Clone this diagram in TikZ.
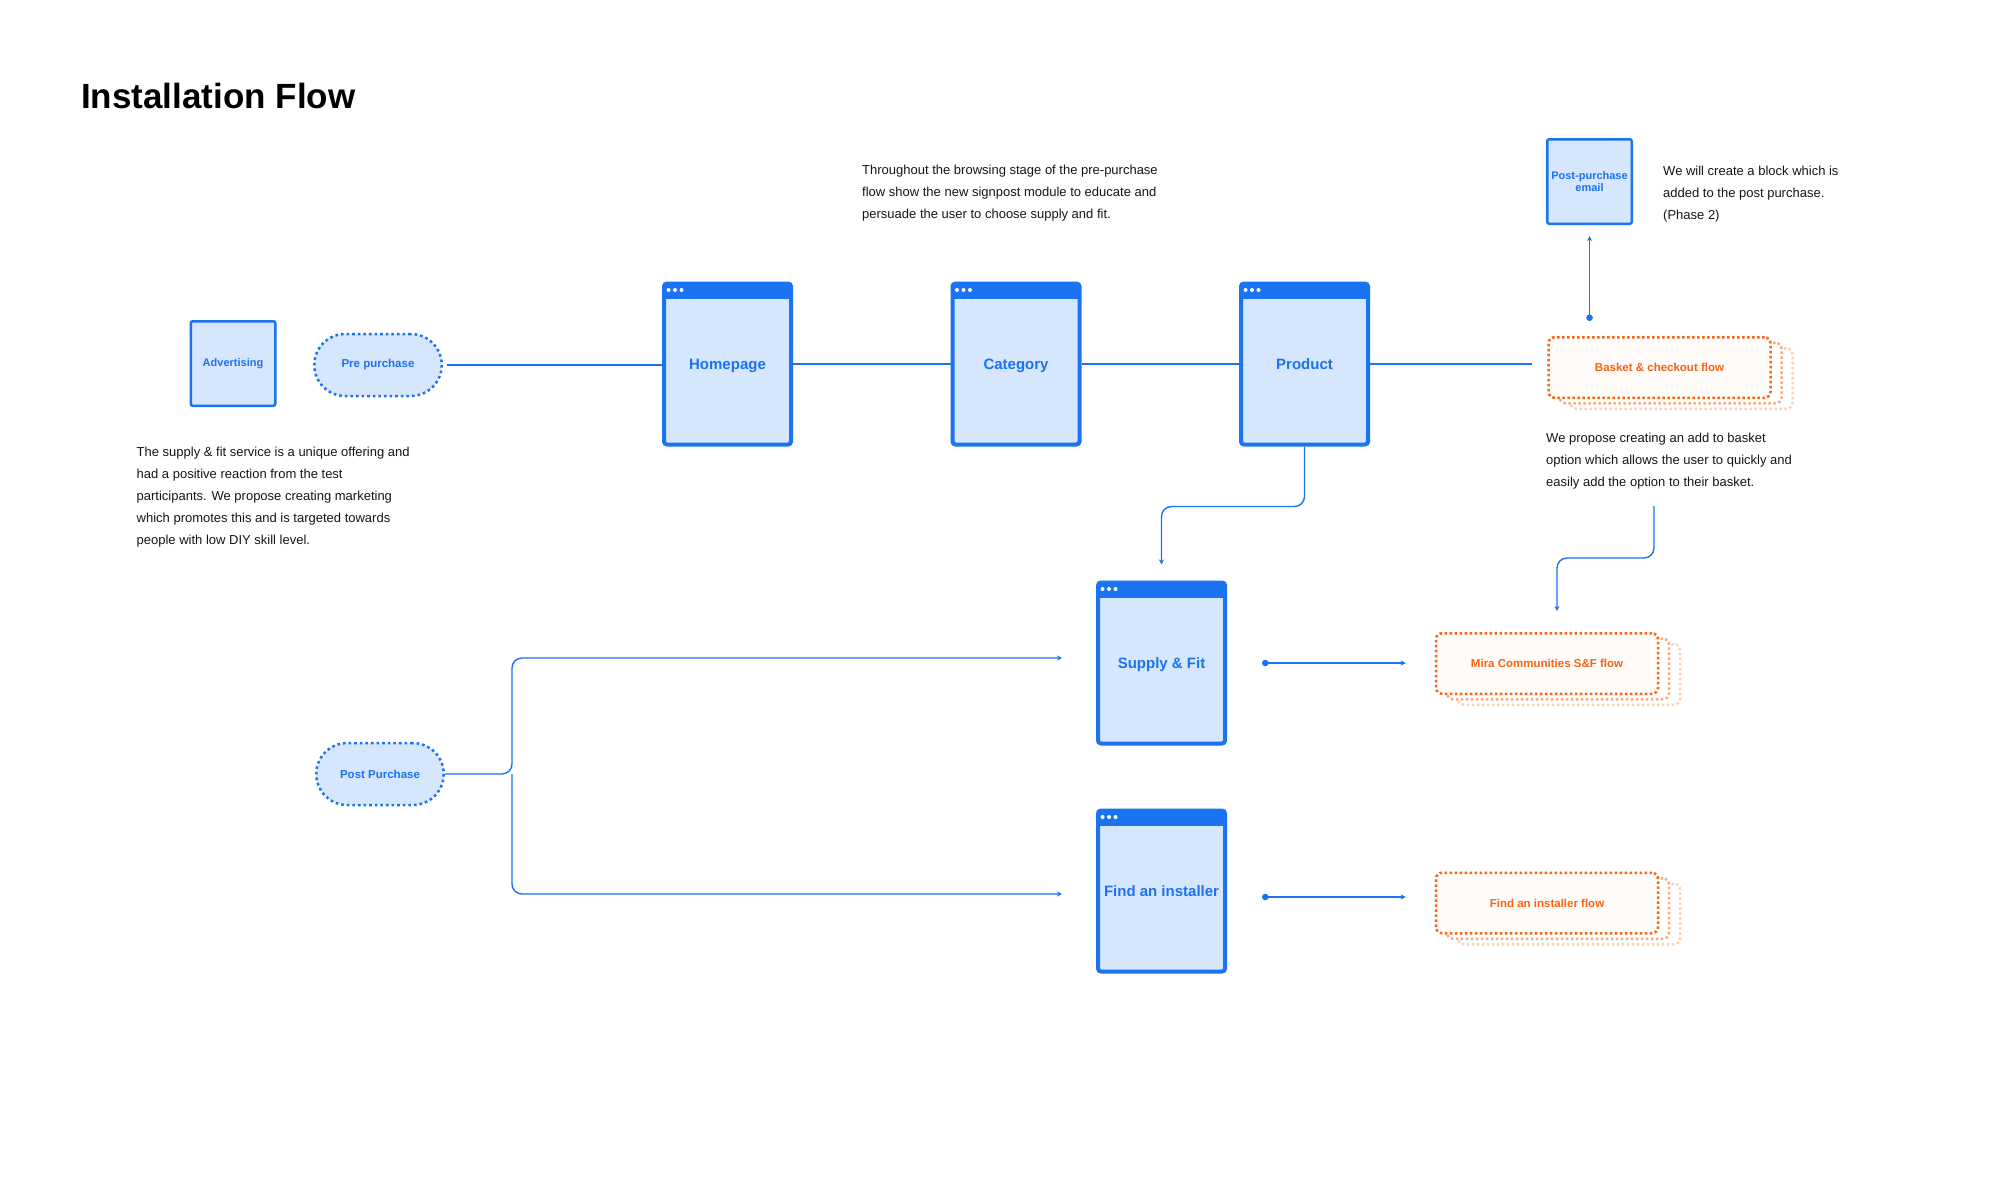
\documentclass[tikz,border=0pt]{standalone}
\usepackage{fontspec}
\setmainfont{Liberation Sans}
\usetikzlibrary{arrows.meta,shadows}

\definecolor{flowblue}{RGB}{26,115,240}
\definecolor{paleblue}{RGB}{214,230,252}
\definecolor{floworange}{RGB}{246,100,20}
\definecolor{palepeach}{RGB}{255,251,248}
\definecolor{inkgrey}{RGB}{22,22,22}

\tikzset{
  page/.style={draw=flowblue, fill=paleblue, line width=4pt, rounded corners=3pt,
    minimum width=127pt, minimum height=161pt, inner sep=0pt, text=flowblue,
    text height=11pt, text depth=0pt,
    font=\fontsize{15}{18}\selectfont\bfseries,
    path picture={
      \fill[flowblue, sharp corners] ([yshift=3pt]path picture bounding box.north west)
        rectangle ([yshift=-15pt]path picture bounding box.north east);
      \foreach \d in {4.5,11,17.5}
        \fill[white] ([xshift=\d pt, yshift=-6.5pt]path picture bounding box.north west) circle[radius=2pt];
    }},
  smallbox/.style={draw=flowblue, fill=paleblue, line width=2.5pt, rounded corners=2pt,
    minimum width=84.5pt, minimum height=84.5pt, inner sep=0pt, align=center,
    text=flowblue, font=\fontsize{11}{12.5}\selectfont\bfseries},
  pill/.style={draw=flowblue, fill=paleblue, line width=2.5pt, dash pattern=on 2.6pt off 3pt,
    rounded corners=31pt, minimum width=127.5pt, minimum height=62pt, inner sep=0pt,
    text=flowblue, font=\fontsize{11.5}{13}\selectfont\bfseries},
  flowbox/.style={draw=floworange, fill=palepeach, line width=2.5pt, dash pattern=on 2.5pt off 2.5pt,
    rounded corners=6pt, minimum width=222pt, minimum height=60.5pt, inner sep=0pt,
    text=floworange, font=\fontsize{11.5}{13}\selectfont\bfseries,
    copy shadow={shadow xshift=22pt, shadow yshift=-11pt, draw=floworange!30, fill=white, opacity=1},
    copy shadow={shadow xshift=11pt, shadow yshift=-5.5pt, draw=floworange!55, fill=white, opacity=1}},
  note/.style={anchor=north west, inner sep=0pt, align=left, text=inkgrey,
    font=\fontsize{13}{22}\selectfont},
  mainline/.style={draw=flowblue, line width=1.8pt},
  conn/.style={draw=flowblue, line width=1.4pt, rounded corners=10pt},
  tip/.style={-{Stealth[length=5pt, width=5pt]}},
  dottip/.style={{Circle[length=6.5pt]}-{Stealth[length=5pt, width=5pt]}}
}

\begin{document}
\begin{tikzpicture}[x=1pt, y=-1pt]
  \useasboundingbox[fill=white] (0,0) rectangle (2000,1187);

  \node[anchor=base west, inner sep=0pt, text=black, font=\fontsize{35}{40}\selectfont\bfseries] (title) at (81,108) {Installation Flow};

  % pre purchase row
  \node[smallbox] (advert) at (233,363.5) {Advertising};
  \node[pill] (pre) at (378,365) {Pre purchase};
  \node[page] (home) at (727.5,364) {Homepage};
  \node[page] (cat) at (1016,364) {Category};
  \node[page] (prod) at (1304.5,364) {Product};
  \node[flowbox] (basket) at (1659.5,367.5) {Basket \& checkout flow};
  \node[smallbox] (email) at (1589.5,181.5) {Post-purchase\\email};

  % post purchase row
  \node[pill] (post) at (380,774) {Post Purchase};
  \node[page] (supply) at (1161.5,663) {Supply \& Fit};
  \node[page] (installer) at (1161.5,891) {Find an installer};
  \node[flowbox] (mira) at (1547,663.5) {Mira Communities S\&F flow};
  \node[flowbox] (findflow) at (1547,903) {Find an installer flow};

  % notes
  \node[note] (leftnote) at (136.5,446.5) {The supply \& fit service is a unique offering and\\had a positive reaction from the test\\participants. We propose creating marketing\\which promotes this and is targeted towards\\people with low DIY skill level.};
  \node[note] (topnote) at (862,165) {Throughout the browsing stage of the pre-purchase\\flow show the new signpost module to educate and\\persuade the user to choose supply and fit.};
  \node[note] (emailnote) at (1663,165.5) {We will create a block which is\\added to the post purchase.\\(Phase 2)};
  \node[note] (basketnote) at (1546,432.5) {We propose creating an add to basket\\option which allows the user to quickly and\\easily add the option to their basket.};

  \coordinate (trunk) at (512,774);
  \coordinate (bnote) at (1654,506);

  \draw[mainline, shorten <=4pt] (pre.east) -- (pre.east -| home.west);
  \draw[mainline] (home.east) -- (cat.west);
  \draw[mainline] (cat.east) -- (prod.west);
  \draw[mainline, shorten >=15pt] (prod.east) -- (prod.east -| basket.west);

  \draw[conn, tip, shorten >=16pt] (prod.south) -- ++(0,60) -| (supply.north);
  \draw[conn, tip, shorten >=21pt] (bnote) -- ++(0,52) -| ([xshift=10pt]mira.north);
  \draw[conn, dottip, shorten <=15pt, shorten >=11pt] (email.south |- basket.north) -- (email.south);

  \draw[conn, tip, shorten >=34pt] (post.east) -- (trunk) |- ([yshift=5pt]supply.west);
  \draw[conn, tip, shorten >=34pt] (trunk) |- ([yshift=-3pt]installer.west);

  \draw[conn, dottip, shorten <=35pt, shorten >=29pt] (supply.east) -- (supply.east -| mira.west);
  \draw[conn, dottip, shorten <=35pt, shorten >=29pt] ([yshift=-6pt]installer.east) -- ([yshift=-6pt]installer.east -| findflow.west);
\end{tikzpicture}
\end{document}
